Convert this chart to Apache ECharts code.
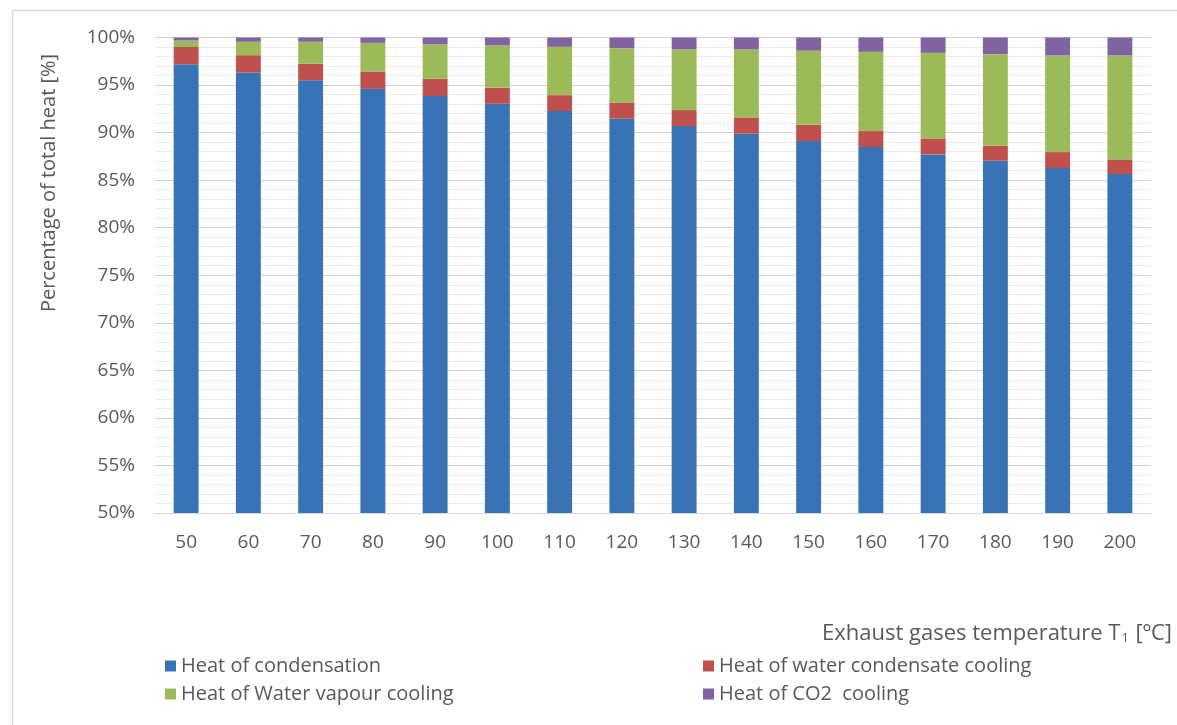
<!DOCTYPE html>
<html>
<head>
<meta charset="utf-8">
<script src="https://cdn.jsdelivr.net/npm/echarts@6/dist/echarts.min.js"></script>
<style>
html,body{margin:0;padding:0;background:#fff;}
#chart{width:1177px;height:725px;}
</style>
</head>
<body>
<div id="chart"></div>
<script>
const categories = ['50','60','70','80','90','100','110','120','130','140','150','160','170','180','190','200'];
const condensation = [97.2, 96.3, 95.5, 94.6, 93.85, 93.03, 92.26, 91.46, 90.69, 89.88, 89.11, 88.48, 87.71, 87.04, 86.27, 85.64];
const condensateCooling = [1.8, 1.84, 1.74, 1.83, 1.81, 1.7, 1.68, 1.71, 1.68, 1.72, 1.72, 1.68, 1.68, 1.58, 1.68, 1.54];
const vapourCooling = [0.68, 1.41, 2.31, 3.01, 3.64, 4.43, 5.08, 5.71, 6.37, 7.14, 7.79, 8.33, 9.0, 9.63, 10.16, 10.93];
const co2Cooling = [0.32, 0.45, 0.45, 0.56, 0.7, 0.84, 0.98, 1.12, 1.26, 1.26, 1.38, 1.51, 1.61, 1.75, 1.89, 1.89];
const yTicks = {min: 50, max: 100, interval: 5};

const FONT = '"Open Sans", "Noto Sans", sans-serif';
const TXT = '#595959';
const chart = echarts.init(document.getElementById('chart'));

function bar(name, data, color) {
  return {
    name: name, type: 'bar', stack: 'total', data: data, barWidth: '40%',
    itemStyle: {color: color}, emphasis: {disabled: true}, animation: false
  };
}

const legendCommon = {
  orient: 'vertical', icon: 'rect', itemWidth: 11, itemHeight: 11, itemGap: 8,
  textStyle: {fontFamily: FONT, fontSize: 20, color: TXT, lineHeight: 16}, selectedMode: false
};

chart.setOption({
  animation: false,
  backgroundColor: '#fff',
  grid: {left: 155, right: 26, top: 37.5, bottom: 212},
  xAxis: {
    type: 'category', data: categories,
    axisLine: {show: true, lineStyle: {color: '#d9d9d9', width: 1}},
    axisTick: {show: false},
    axisLabel: {fontFamily: FONT, fontSize: 19, color: TXT, margin: 20}
  },
  yAxis: {
    type: 'value', min: yTicks.min, max: yTicks.max, interval: yTicks.interval,
    axisLine: {show: false}, axisTick: {show: false},
    axisLabel: {fontFamily: FONT, fontSize: 19, color: TXT, margin: 20, formatter: '{value}%'},
    splitLine: {show: true, lineStyle: {color: '#d0d0d0', width: 1}},
    minorTick: {show: false, splitNumber: 5},
    minorSplitLine: {show: true, lineStyle: {color: '#ececec', width: 1}}
  },
  legend: [
    Object.assign({left: 160, top: 651, data: ['Heat of condensation', 'Heat of Water vapour cooling']}, legendCommon),
    Object.assign({left: 698, top: 651, data: ['Heat of water condensate cooling', 'Heat of CO2  cooling']}, legendCommon)
  ],
  series: [
    bar('Heat of condensation', condensation, '#3873b6'),
    bar('Heat of water condensate cooling', condensateCooling, '#c0504d'),
    bar('Heat of Water vapour cooling', vapourCooling, '#9bbb59'),
    bar('Heat of CO2  cooling', co2Cooling, '#8064a2')
  ],
  graphic: [
    {type: 'rect', left: 10, top: 8, shape: {width: 1300, height: 900},
     style: {fill: 'none', stroke: '#d9d9d9', lineWidth: 1.5}, silent: true},
    {type: 'text', rotation: Math.PI / 2, x: 49, y: 183,
     style: {text: 'Percentage of total heat [%]', fontFamily: FONT, fontSize: 20, fill: TXT,
             align: 'center', verticalAlign: 'middle'}},
    {type: 'text', right: 5, top: 623,
     style: {
       text: '{a|Exhaust gases temperature T}{s|1}{a| [ºC]}',
       rich: {
         a: {fontFamily: FONT, fontSize: 22, fill: TXT, color: TXT},
         s: {fontFamily: FONT, fontSize: 13, fill: TXT, color: TXT, padding: [9, 1, 0, 1]}
       }
     }}
  ]
});
</script>
</body>
</html>
